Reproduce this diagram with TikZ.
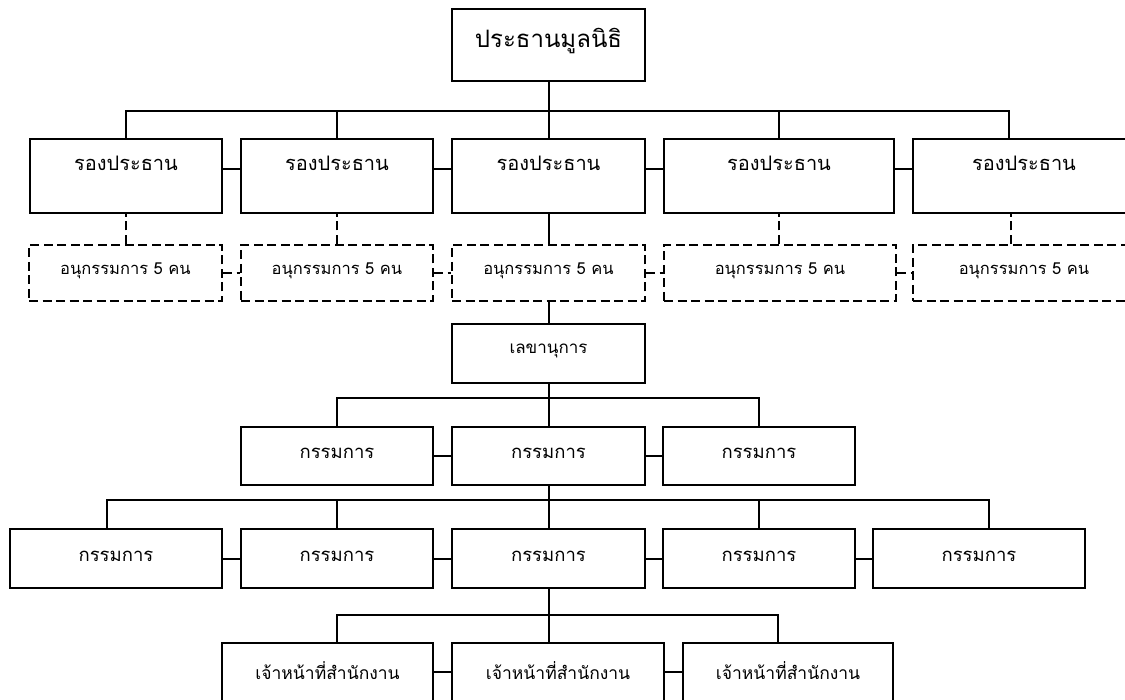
\documentclass[tikz,border=0pt]{standalone}
\usepackage{fontspec}
\newfontfamily\thaifont[Script=Thai]{Loma}

\tikzset{
	box/.style={draw, rectangle, line width=2pt, inner sep=0pt, text height=0pt, text depth=0pt},
	subbox/.style={box, dash pattern=on 9pt off 4.5pt},
	link/.style={line width=2pt},
	dlink/.style={link, dash pattern=on 9pt off 4.5pt},
	toptext/.style={font=\thaifont\fontsize{24}{28}\selectfont, text height=6pt},
	vptext/.style={font=\thaifont\fontsize{20}{24}\selectfont, text depth=11pt},
	subtext/.style={font=\thaifont\fontsize{16.5}{19}\selectfont, text height=3pt},
	sectext/.style={font=\thaifont\fontsize{17}{20}\selectfont},
	memtext/.style={font=\thaifont\fontsize{18.5}{22}\selectfont, text height=5pt},
	stafftext/.style={font=\thaifont\fontsize{17.5}{21}\selectfont, text depth=2pt}
}

\begin{document}
\begin{tikzpicture}[x=1pt,y=-1pt]
		\clip (0,0) rectangle (1125,700);
		\fill [white] (0,0) rectangle (1125,700);
		% president
		\node [box, toptext, minimum width=193pt, minimum height=72pt] (pres) at (548.5,45) {ประธานมูลนิธิ};
		% vice presidents
		\foreach \n/\x/\w in {1/126/192, 2/337/192, 3/548.5/193, 4/779/230, 5/1024/222}
			\node [box, vptext, minimum width=\w pt, minimum height=74pt] (v\n) at (\x,176) {รองประธาน};
		\coordinate (bus1) at (548.5,111);
		\draw [link] (pres) -- (v3);
		\foreach \n in {1,2,4}
			\draw [link] (v\n.north) |- (bus1);
		\draw [link] ([xshift=-15pt]v5.north) |- (bus1);
		\foreach \a/\b in {1/2,2/3,3/4,4/5}
			\draw [link] ([yshift=7pt]v\a.east) -- ([yshift=7pt]v\a.east -| v\b.west);
		% sub committees
		\foreach \n/\x/\w in {1/125.5/193, 2/337/192, 3/548.5/193, 4/780/232, 5/1024/222}
			\node [subbox, subtext, minimum width=\w pt, minimum height=56pt] (s\n) at (\x,273) {อนุกรรมการ 5 คน};
		\foreach \n in {1,2,4}
			\draw [dlink] (v\n.south |- s\n.north) -- (v\n.south);
		\draw [dlink] ([xshift=-13pt]v5.south |- s5.north) -- ([xshift=-13pt]v5.south);
		\draw [link] (v3) -- (s3);
		\foreach \a/\b in {1/2,2/3,3/4,4/5}
			\draw [dlink] (s\a.east) -- (s\b.west);
		% secretary
		\node [box, sectext, minimum width=193pt, minimum height=59pt] (sec) at (548.5,353.5) {เลขานุการ};
		\draw [link] (s3) -- (sec);
		% committee, first row
		\foreach \n/\x/\w in {1/337/192, 2/548.5/193, 3/759/192}
			\node [box, memtext, minimum width=\w pt, minimum height=58pt] (a\n) at (\x,456) {กรรมการ};
		\coordinate (bus2) at (548.5,398);
		\draw [link] (sec) -- (a2);
		\draw [link] (a1.north) |- (bus2);
		\draw [link] (a3.north) |- (bus2);
		\foreach \a/\b in {1/2,2/3}
			\draw [link] (a\a) -- (a\b);
		% committee, second row
		\foreach \n/\x/\w in {1/116/212, 2/337/192, 3/548.5/193, 4/759/192, 5/979/212}
			\node [box, memtext, minimum width=\w pt, minimum height=59pt] (c\n) at (\x,558.5) {กรรมการ};
		\coordinate (bus3) at (548.5,500);
		\draw [link] (a2) -- (c3);
		\draw [link] ([xshift=-9pt]c1.north) |- (bus3);
		\draw [link] (c2.north) |- (bus3);
		\draw [link] (c4.north) |- (bus3);
		\draw [link] ([xshift=10pt]c5.north) |- (bus3);
		\foreach \a/\b in {1/2,2/3,3/4,4/5}
			\draw [link] (c\a) -- (c\b);
		% office staff
		\foreach \n/\x/\w in {1/327.5/211, 2/558/212, 3/788/210}
			\node [box, stafftext, minimum width=\w pt, minimum height=74pt] (d\n) at (\x,680) {เจ้าหน้าที่สำนักงาน};
		\coordinate (bus4) at (548.5,615);
		\draw [link] (c3.south) -- (c3.south |- d2.north);
		\draw [link] ([xshift=9.5pt]d1.north) |- (bus4);
		\draw [link] ([xshift=-10pt]d3.north) |- (bus4);
		\foreach \a/\b in {1/2,2/3}
			\draw [link] ([yshift=8pt]d\a.east) -- ([yshift=8pt]d\a.east -| d\b.west);
	\end{tikzpicture}
\end{document}
